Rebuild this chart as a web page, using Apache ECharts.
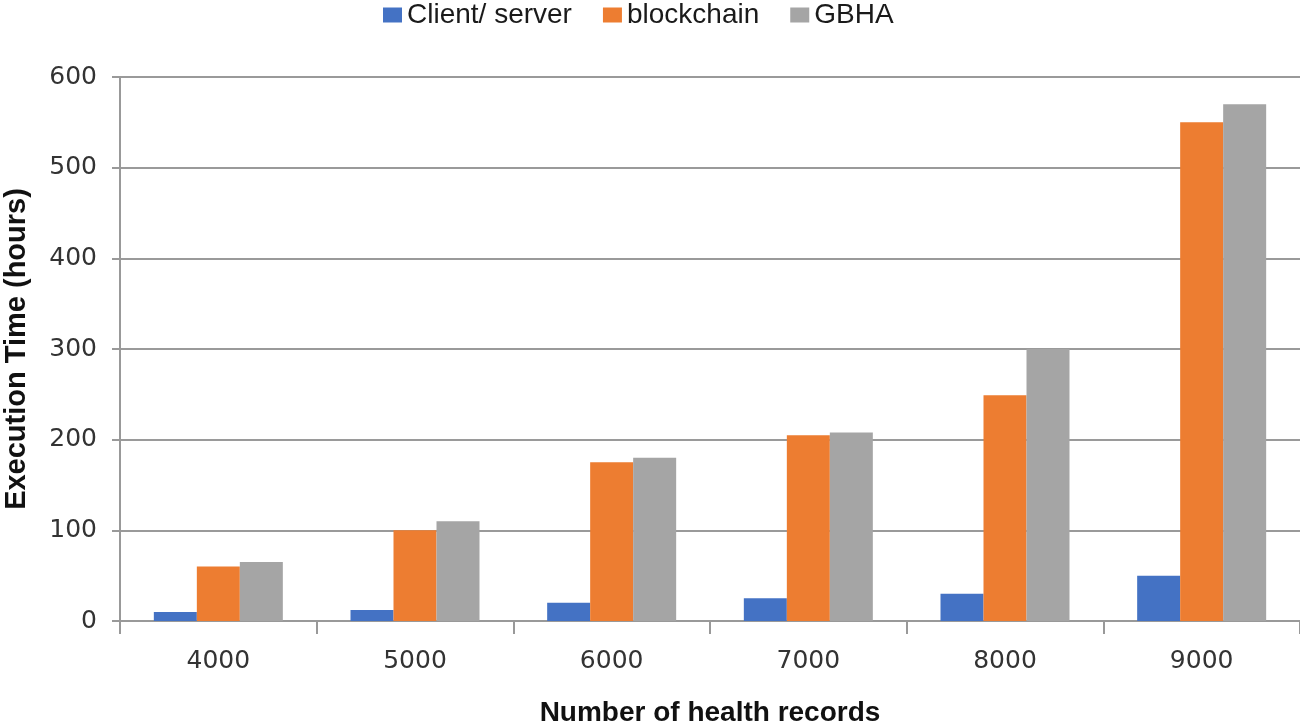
<!DOCTYPE html>
<html><head><meta charset="utf-8">
<script src="https://cdn.jsdelivr.net/npm/echarts@6/dist/echarts.min.js"></script>
<style>html,body{margin:0;padding:0;background:#fff}#c{width:1300px;height:722px}</style>
</head><body><div id="c"></div>
<script>
const categories = ['4000','5000','6000','7000','8000','9000'];
const clientServer = [10, 12, 20, 25, 30, 50];
const blockchain = [60, 100, 175, 205, 249, 550];
const gbha = [65, 110, 180, 208, 300, 570];
const seriesNames = ['Client/ server','blockchain','GBHA'];
const yTicks = {min:0, max:600, interval:100};

const chart = echarts.init(document.getElementById('c'));
chart.setOption({
  animation:false,
  color:['#4472C4','#ED7D31','#A5A5A5'],
  legend:{
    top:1, left:383, padding:0, itemWidth:19, itemHeight:15, itemGap:31, icon:'rect',
    textStyle:{fontFamily:'Liberation Sans, sans-serif', fontSize:28, color:'#1a1a1a'}
  },
  grid:{left:120, right:0, top:77, bottom:101, containLabel:false, outerBoundsMode:'none'},
  xAxis:{
    type:'category', data:categories,
    name:'Number of health records', nameLocation:'middle', nameGap:78,
    nameTextStyle:{fontFamily:'Liberation Sans, sans-serif', fontWeight:'bold', fontSize:28, color:'#111'},
    axisLine:{lineStyle:{color:'#999', width:2}},
    axisTick:{show:true, length:13, lineStyle:{color:'#999', width:2}},
    axisLabel:{fontFamily:'DejaVu Sans, sans-serif', fontSize:25, color:'#333', margin:28}
  },
  yAxis:{
    type:'value', min:yTicks.min, max:yTicks.max, interval:yTicks.interval,
    name:'Execution Time (hours)', nameLocation:'middle', nameGap:89,
    nameTextStyle:{fontFamily:'Liberation Sans, sans-serif', fontWeight:'bold', fontSize:29, color:'#111'},
    axisLine:{show:true, lineStyle:{color:'#999', width:2}},
    axisTick:{show:true, length:8, lineStyle:{color:'#999', width:2}},
    axisLabel:{fontFamily:'DejaVu Sans, sans-serif', fontSize:25, color:'#333', margin:23},
    splitLine:{lineStyle:{color:'#9a9a9a', width:2}}
  },
  series:[
    {name:seriesNames[0], type:'bar', data:clientServer, barWidth:43, barGap:'0%'},
    {name:seriesNames[1], type:'bar', data:blockchain, barWidth:43, barGap:'0%'},
    {name:seriesNames[2], type:'bar', data:gbha, barWidth:43, barGap:'0%'}
  ]
});
</script></body></html>
